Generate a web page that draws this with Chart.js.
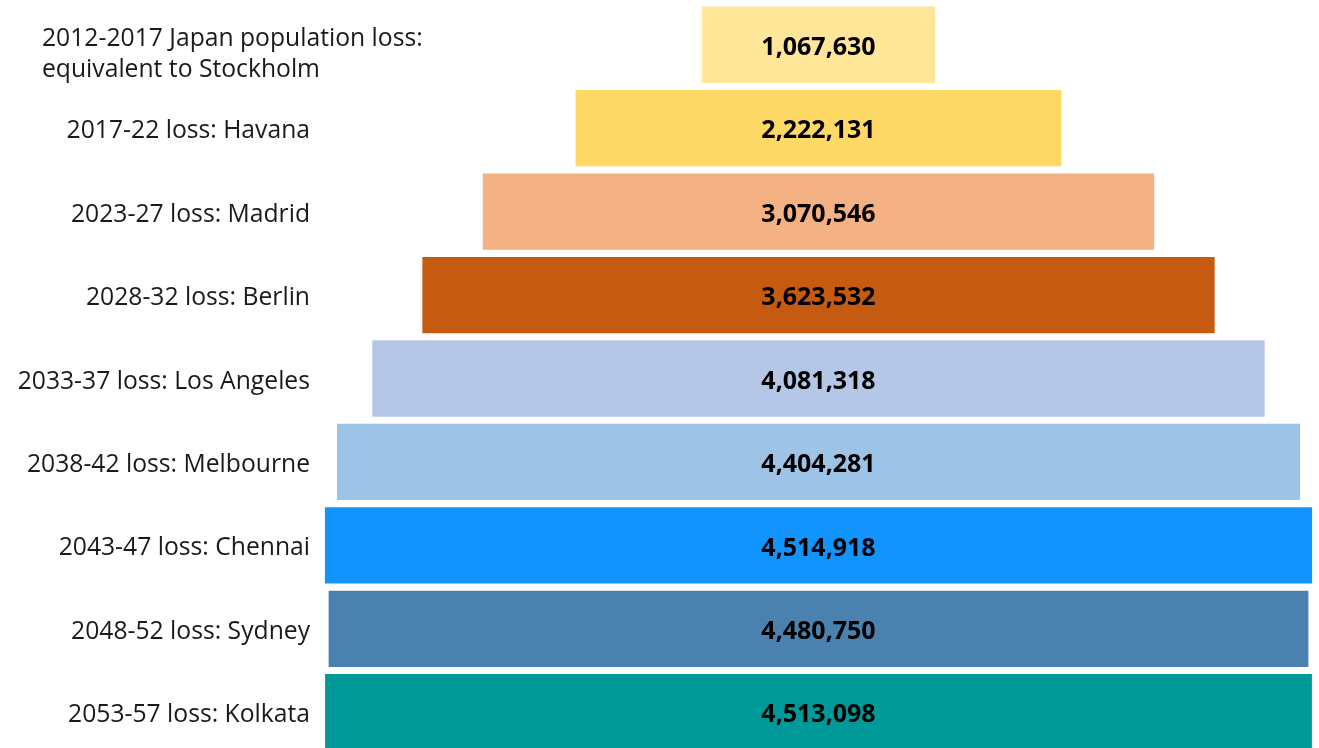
<!DOCTYPE html>
<html>
<head>
<meta charset="utf-8">
<script src="https://cdn.jsdelivr.net/npm/chart.js@4"></script>
<style>
  html, body { margin: 0; padding: 0; background: #fff; overflow: hidden; }
  #wrap { width: 1319px; height: 757px; position: relative; }
</style>
</head>
<body>
<div id="wrap"><canvas id="funnel"></canvas></div>
<script>
// periods and the city each loss is compared with
const periods = ['2012-2017', '2017-22', '2023-27', '2028-32', '2033-37', '2038-42', '2043-47', '2048-52', '2053-57'];
const cities = ['Stockholm', 'Havana', 'Madrid', 'Berlin', 'Los Angeles', 'Melbourne', 'Chennai', 'Sydney', 'Kolkata'];
const losses = [1067630, 2222131, 3070546, 3623532, 4081318, 4404281, 4514918, 4480750, 4513098];
const barColors = ['#FFE699', '#FFD966', '#F4B183', '#C55A11', '#B4C7E7', '#9DC3E6', '#1294FF', '#4A81AF', '#009999'];
const firstLabel = ['2012-2017 Japan population loss:', 'equivalent to Stockholm'];

const labels = periods.map((p, i) => i === 0 ? '' : p + ' loss: ' + cities[i]);
// each bar is centred on zero
const spans = losses.map(v => [-v / 2, v / 2]);

const fontFamily = '"Open Sans", "Noto Sans", sans-serif';

const valueLabels = {
    id: 'valueLabels',
    afterDatasetsDraw(chart) {
        const ctx = chart.ctx;
        const meta = chart.getDatasetMeta(0);
        ctx.save();
        ctx.font = 'bold 25px ' + fontFamily;
        ctx.fillStyle = '#000';
        ctx.textAlign = 'center';
        ctx.textBaseline = 'middle';
        meta.data.forEach((bar, i) => {
            const cx = (bar.base + bar.x) / 2;
            ctx.fillText(losses[i].toLocaleString('en-US'), cx, bar.y + 3);
        });

        // first row label sits left-aligned on two lines
        const y = chart.scales.y.getPixelForValue(0);
        ctx.font = '24.7px ' + fontFamily;
        ctx.fillStyle = '#1a1a1a';
        ctx.textAlign = 'left';
        ctx.fillText(firstLabel[0], 42, y - 6);
        ctx.fillText(firstLabel[1], 42, y + 25);
        ctx.restore();
    }
};

new Chart(document.getElementById('funnel'), {
    type: 'bar',
    data: {
        labels: labels,
        datasets: [{
            data: spans,
            backgroundColor: barColors,
            borderSkipped: false,
            barPercentage: 0.915,
            categoryPercentage: 1
        }]
    },
    options: {
        indexAxis: 'y',
        responsive: true,
        maintainAspectRatio: false,
        animation: false,
        layout: { padding: { top: 3, bottom: 3, left: 0, right: 0 } },
        plugins: {
            legend: { display: false },
            tooltip: { enabled: false }
        },
        scales: {
            x: {
                display: false,
                min: -2289000,
                max: 2289000
            },
            y: {
                grid: { display: false, drawTicks: false },
                border: { display: false },
                afterFit(scale) {
                    scale.width = 318;
                    // rows fill the full height, no room kept for label overhang
                    scale.paddingTop = 0;
                    scale.paddingBottom = 0;
                },
                ticks: {
                    padding: 8,
                    labelOffset: 3,
                    color: '#1a1a1a',
                    font: { family: fontFamily, size: 24.7 }
                }
            }
        }
    },
    plugins: [valueLabels]
});
</script>
</body>
</html>
